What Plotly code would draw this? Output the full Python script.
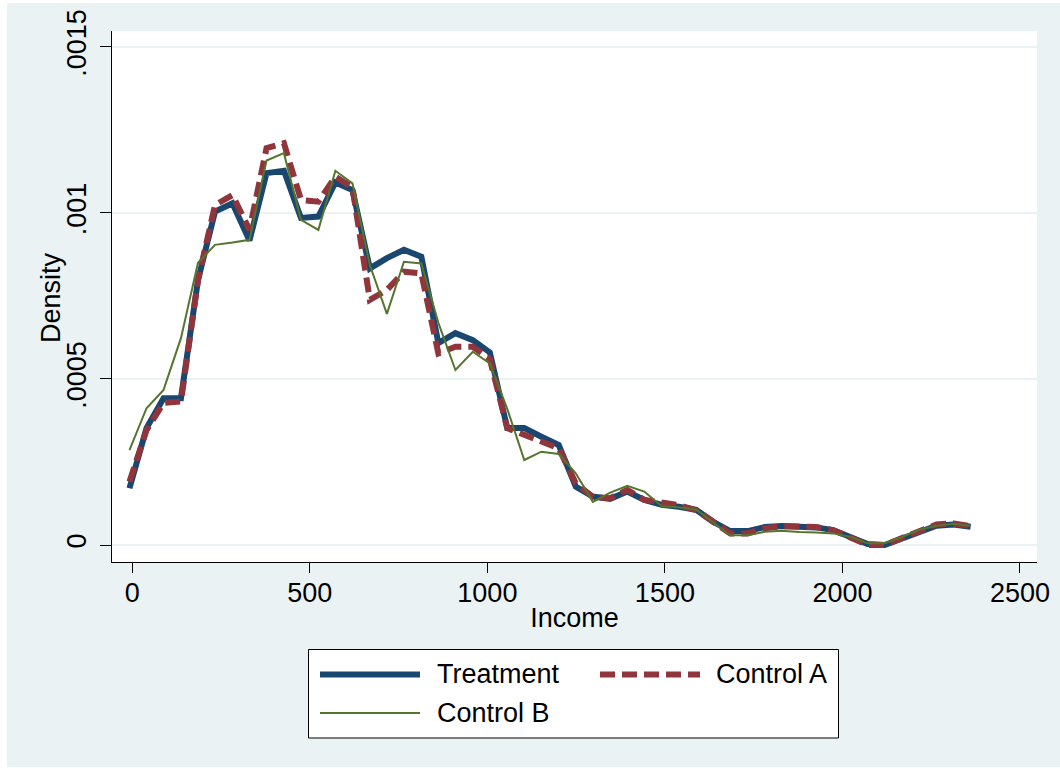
import plotly.graph_objects as go

# Evaluation points (Income)
income = [-8, 40, 88, 137, 185, 233, 282, 330, 378, 427, 475, 524, 572, 620, 669, 717,
          765, 814, 862, 910, 959, 1007, 1056, 1104, 1152, 1201, 1249, 1297, 1346, 1394,
          1442, 1491, 1539, 1588, 1636, 1684, 1733, 1781, 1829, 1878, 1926, 1974, 2023,
          2071, 2119, 2168, 2216, 2265, 2313, 2361]

# Densities (x 1e-4)
treatment_e4 = [1.71, 3.52, 4.42, 4.42, 7.98, 10.04, 10.29, 9.17, 11.20, 11.27, 9.85, 9.89,
                10.92, 10.69, 8.33, 8.64, 8.89, 8.68, 6.08, 6.38, 6.17, 5.80, 3.52, 3.52,
                3.26, 3.01, 1.76, 1.46, 1.39, 1.61, 1.36, 1.21, 1.15, 1.06, 0.70, 0.42,
                0.42, 0.54, 0.57, 0.56, 0.53, 0.45, 0.25, 0.03, 0.00, 0.20, 0.42, 0.58,
                0.62, 0.55]
control_a_e4 = [1.91, 3.46, 4.28, 4.32, 7.98, 10.24, 10.54, 9.49, 11.95, 12.10, 10.39, 10.34,
                11.09, 10.77, 7.38, 7.68, 8.23, 8.18, 5.77, 5.97, 5.97, 5.60, 3.52, 3.31,
                3.11, 2.91, 1.86, 1.45, 1.41, 1.66, 1.36, 1.26, 1.20, 1.05, 0.70, 0.35,
                0.35, 0.50, 0.57, 0.55, 0.54, 0.45, 0.24, 0.00, 0.00, 0.21, 0.45, 0.62,
                0.65, 0.57]
control_b_e4 = [2.86, 4.12, 4.67, 6.23, 8.50, 9.04, 9.11, 9.19, 11.58, 11.80, 9.79, 9.49,
                11.27, 10.89, 8.43, 6.96, 8.53, 8.48, 6.69, 5.27, 5.82, 5.47, 4.10, 2.56,
                2.81, 2.74, 2.16, 1.30, 1.58, 1.78, 1.61, 1.17, 1.14, 1.07, 0.68, 0.29,
                0.29, 0.40, 0.43, 0.39, 0.38, 0.35, 0.24, 0.05, 0.05, 0.24, 0.46, 0.58,
                0.64, 0.58]

x_ticks = [0, 500, 1000, 1500, 2000, 2500]
y_ticks = [0, 0.0005, 0.001, 0.0015]
y_ticktext = ["0", ".0005", ".001", ".0015"]

NAVY = "#1A476F"
MAROON = "#90353B"
GREEN = "#55752F"
BG = "#EAF2F3"
FONT = "Liberation Sans, Arial, sans-serif"
FS = 27

def scale(v):
    return [d * 1e-4 for d in v]

fig = go.Figure()
fig.add_trace(go.Scatter(x=income, y=scale(treatment_e4), mode="lines", name="Treatment",
                         line=dict(color=NAVY, width=6), showlegend=False))
fig.add_trace(go.Scatter(x=income, y=scale(control_a_e4), mode="lines", name="Control A",
                         line=dict(color=MAROON, width=6, dash="15px,7px"), showlegend=False))
fig.add_trace(go.Scatter(x=income, y=scale(control_b_e4), mode="lines", name="Control B",
                         line=dict(color=GREEN, width=2), showlegend=False))

L, R, T, B = 112, 23, 31, 207
W, H = 1060, 769
PW, PH = W - L - R, H - T - B

def px(x):
    return (x - L) / PW

def py(y):
    return (H - B - y) / PH

shapes = [
    # outer graph region
    dict(type="rect", xref="paper", yref="paper", x0=px(7), x1=px(1060), y0=py(767), y1=py(3),
         fillcolor=BG, line=dict(width=0), layer="below"),
    # plot region
    dict(type="rect", xref="paper", yref="paper", x0=0, x1=1, y0=0, y1=1,
         fillcolor="white", line=dict(width=0), layer="below"),
    # legend box
    dict(type="rect", xref="paper", yref="paper", x0=px(308.5), x1=px(838.5), y0=py(738), y1=py(649.5),
         fillcolor="white", line=dict(color="black", width=1)),
    dict(type="line", xref="paper", yref="paper", x0=px(320), x1=px(420), y0=py(674.5), y1=py(674.5),
         line=dict(color=NAVY, width=6)),
    dict(type="line", xref="paper", yref="paper", x0=px(600), x1=px(700), y0=py(674.5), y1=py(674.5),
         line=dict(color=MAROON, width=6, dash="15px,7px")),
    dict(type="line", xref="paper", yref="paper", x0=px(320), x1=px(420), y0=py(713), y1=py(713),
         line=dict(color=GREEN, width=2)),
]

annotations = [
    dict(text="Treatment", xref="paper", yref="paper", x=px(435), y=py(674.5), xanchor="left",
         yanchor="middle", showarrow=False, font=dict(family=FONT, size=FS, color="black")),
    dict(text="Control A", xref="paper", yref="paper", x=px(714), y=py(674.5), xanchor="left",
         yanchor="middle", showarrow=False, font=dict(family=FONT, size=FS, color="black")),
    dict(text="Control B", xref="paper", yref="paper", x=px(435), y=py(713), xanchor="left",
         yanchor="middle", showarrow=False, font=dict(family=FONT, size=FS, color="black")),
    # y-axis title
    dict(text="Density", xref="paper", yref="paper", x=px(51), y=py(297), xanchor="center",
         yanchor="middle", textangle=-90, showarrow=False,
         font=dict(family=FONT, size=FS, color="black")),
]

fig.update_layout(
    width=W, height=H,
    margin=dict(l=L, r=R, t=T, b=B, pad=0),
    paper_bgcolor="white",
    plot_bgcolor="white",
    font=dict(family=FONT, size=FS, color="black"),
    shapes=shapes,
    annotations=annotations,
    showlegend=False,
    xaxis=dict(
        range=[-57.2, 2548], tickvals=x_ticks, ticks="outside", ticklen=10, tickwidth=1,
        tickcolor="black", showline=True, linecolor="black", linewidth=1, showgrid=False,
        zeroline=False, tickfont=dict(size=FS), ticklabelstandoff=-3,
        title=dict(text="Income", font=dict(size=FS), standoff=0), automargin=False,
    ),
    yaxis=dict(
        range=[-5.12e-5, 1.548e-3], tickvals=y_ticks, ticktext=y_ticktext, tickangle=-90,
        ticks="outside", ticklen=11, tickwidth=1, tickcolor="black", showline=True,
        linecolor="black", linewidth=1, showgrid=True, gridcolor=BG, gridwidth=2,
        zeroline=False, tickfont=dict(size=FS), ticklabelstandoff=3,
        automargin=False,
    ),
)

fig.write_html("out.html", config={"displayModeBar": False},
               post_script="document.body.style.margin='0';")
